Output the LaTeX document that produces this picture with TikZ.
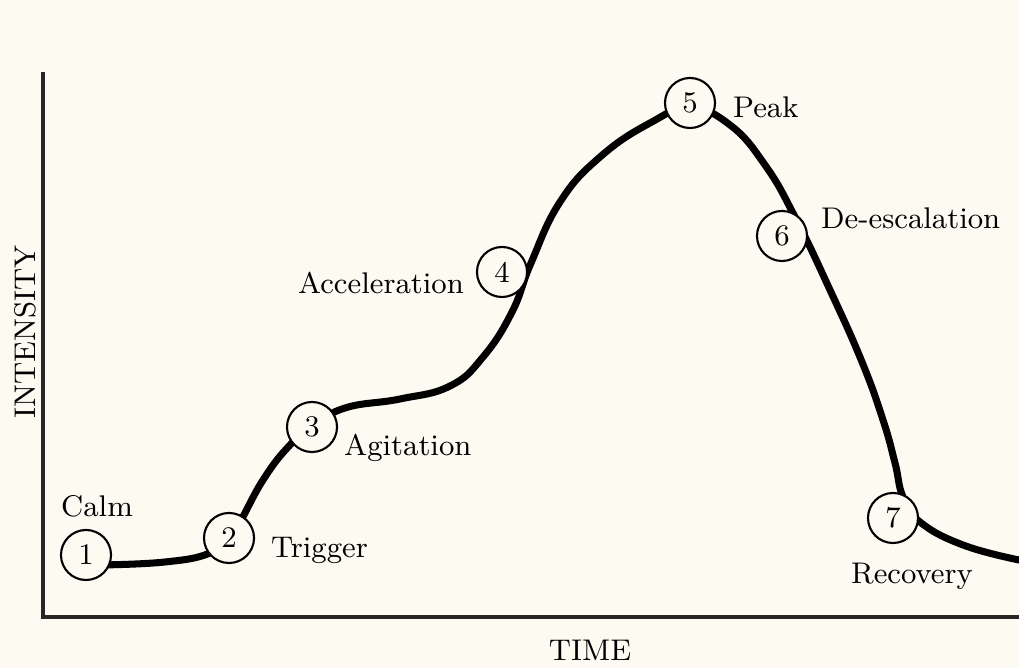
\documentclass[tikz,border=0pt]{standalone}
\usepackage{tikz}
\usetikzlibrary{positioning}
\definecolor{paper_cream}{RGB}{253,250,242}

\begin{document}
\begin{tikzpicture}[
    x=0.01cm, y=-0.01cm,
    font=\fontsize{8.5}{10}\selectfont,
    stage/.style={circle, draw=black, fill=paper_cream, line width=0.6pt, minimum size=0.5cm, inner sep=0pt},
    stage_label/.style={inner sep=1pt},
    axis_line/.style={line width=0.9pt, draw=black!85},
    escalation_curve/.style={line width=2pt, line cap=round, line join=round}
]

% Background
\fill[paper_cream] (0,0) rectangle (1019,668);
\useasboundingbox (0,0) rectangle (1019,668);

% Axes
\coordinate (origin) at (43,617);
\coordinate (y_top) at (43,72);
\coordinate (x_end) at (1019,617);
\draw[axis_line] (y_top) -- (origin) -- (x_end);

\node (time_label) at (590,650) {TIME};
\node (intensity_label) at (25,332) [rotate=90] {INTENSITY};

% Escalation curve
\draw[escalation_curve] plot[smooth, tension=0.75] coordinates {
    (100,565) (165,562) (210,553) (232,535) (263,480) (290,445) (312,427)
    (345,408) (400,399) (450,386) (483,357) (512,312) (531,263)
    (560,202) (600,157) (650,123) (690,108) (730,125) (765,165)
    (795,217) (830,290) (862,362) (883,420) (895,463) (903,497)
    (920,522) (963,545) (1019,560)};

% Stages
\node (calm_stage) at (86,555) [stage] {1};
\node (trigger_stage) at (229,538) [stage] {2};
\node (agitation_stage) at (312,427) [stage] {3};
\node (acceleration_stage) at (502,272) [stage] {4};
\node (peak_stage) at (690,103) [stage] {5};
\node (deescalation_stage) at (782,236) [stage] {6};
\node (recovery_stage) at (893,518) [stage] {7};

% Stage labels
\node (calm_label) at (97,506) [stage_label] {Calm};
\node (trigger_label) at (267,550) [stage_label, anchor=west] {Trigger};
\node (agitation_label) at (340,448) [stage_label, anchor=west] {Agitation};
\node (acceleration_label) at (468,283) [stage_label, anchor=east] {Acceleration};
\node (peak_label) at (729,107) [stage_label, anchor=west] {Peak};
\node (deescalation_label) at (817,218) [stage_label, anchor=west] {De-escalation};
\node (recovery_label) at (912,576) [stage_label] {Recovery};

\end{tikzpicture}
\end{document}
